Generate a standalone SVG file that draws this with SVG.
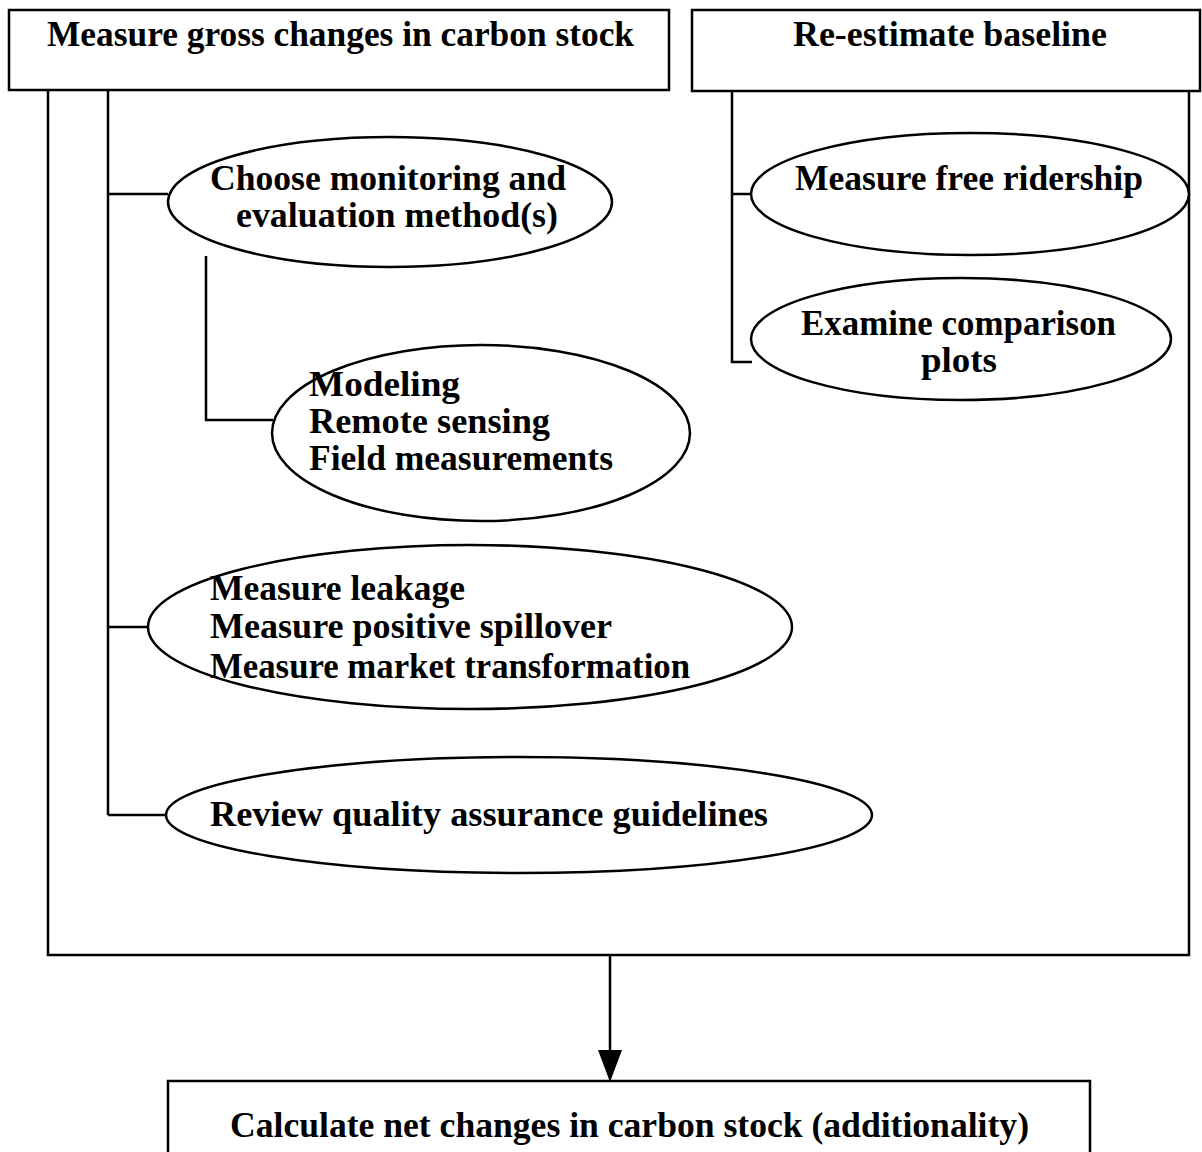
<svg xmlns="http://www.w3.org/2000/svg" width="1202" height="1152" viewBox="0 0 1202 1152">
<style>
.box{fill:#fff;stroke:#000;stroke-width:2.5}
.ell{fill:#fff;stroke:#000;stroke-width:2.5}
.ln{fill:none;stroke:#000;stroke-width:2.5}
text{font-family:"Liberation Serif","Times New Roman",serif;font-weight:bold;font-size:36px;fill:#000}
</style>
<rect width="1202" height="1152" fill="#fff"/>
<g id="connectors">
<polyline class="ln" points="48,90 48,955 1189,955 1189,91"/>
<line class="ln" x1="108" y1="90" x2="108" y2="815"/>
<line class="ln" x1="108" y1="194" x2="168" y2="194"/>
<line class="ln" x1="108" y1="627" x2="148" y2="627"/>
<line class="ln" x1="108" y1="815" x2="168" y2="815"/>
<polyline class="ln" points="206,256 206,420 273,420"/>
<polyline class="ln" points="732,91 732,362 752,362"/>
<line class="ln" x1="732" y1="194" x2="752" y2="194"/>
<line x1="610" y1="955" x2="610" y2="1050" stroke="#000" stroke-width="2.5"/>
<path d="M598,1050 L622,1050 L610,1082 Z" fill="#000"/>
</g>
<g id="n-gross">
<rect class="box" x="9" y="10" width="660" height="80"/>
<text x="47" y="46" textLength="587" lengthAdjust="spacingAndGlyphs">Measure gross changes in carbon stock</text>
</g>
<g id="n-baseline">
<rect class="box" x="692" y="10" width="508" height="81"/>
<text x="793" y="46" textLength="314" lengthAdjust="spacingAndGlyphs">Re-estimate baseline</text>
</g>
<g id="n-choose">
<ellipse class="ell" cx="390" cy="202" rx="222" ry="65"/>
<text x="210" y="190" textLength="356" lengthAdjust="spacingAndGlyphs">Choose monitoring and</text>
<text x="236" y="227" textLength="322" lengthAdjust="spacingAndGlyphs">evaluation method(s)</text>
</g>
<g id="n-methods">
<ellipse class="ell" cx="481" cy="433" rx="209" ry="88"/>
<text x="309" y="396" textLength="151" lengthAdjust="spacingAndGlyphs">Modeling</text>
<text x="309" y="433" textLength="241" lengthAdjust="spacingAndGlyphs">Remote sensing</text>
<text x="309" y="470" textLength="304" lengthAdjust="spacingAndGlyphs">Field measurements</text>
</g>
<g id="n-free">
<ellipse class="ell" cx="970" cy="194" rx="219" ry="61"/>
<text x="795" y="190" textLength="348" lengthAdjust="spacingAndGlyphs">Measure free ridership</text>
</g>
<g id="n-plots">
<ellipse class="ell" cx="961" cy="339" rx="210" ry="61"/>
<text x="801" y="335" textLength="315" lengthAdjust="spacingAndGlyphs">Examine comparison</text>
<text x="921" y="372" textLength="76" lengthAdjust="spacingAndGlyphs">plots</text>
</g>
<g id="n-leakage">
<ellipse class="ell" cx="470" cy="627" rx="322" ry="82"/>
<text x="210" y="600" textLength="255" lengthAdjust="spacingAndGlyphs">Measure leakage</text>
<text x="210" y="638" textLength="402" lengthAdjust="spacingAndGlyphs">Measure positive spillover</text>
<text x="210" y="678" textLength="480" lengthAdjust="spacingAndGlyphs">Measure market transformation</text>
</g>
<g id="n-review">
<ellipse class="ell" cx="519" cy="815" rx="353" ry="58"/>
<text x="210" y="826" textLength="558" lengthAdjust="spacingAndGlyphs">Review quality assurance guidelines</text>
</g>
<g id="n-net">
<rect class="box" x="168" y="1081" width="922" height="80"/>
<text x="230" y="1137" textLength="799" lengthAdjust="spacingAndGlyphs">Calculate net changes in carbon stock (additionality)</text>
</g>
</svg>
